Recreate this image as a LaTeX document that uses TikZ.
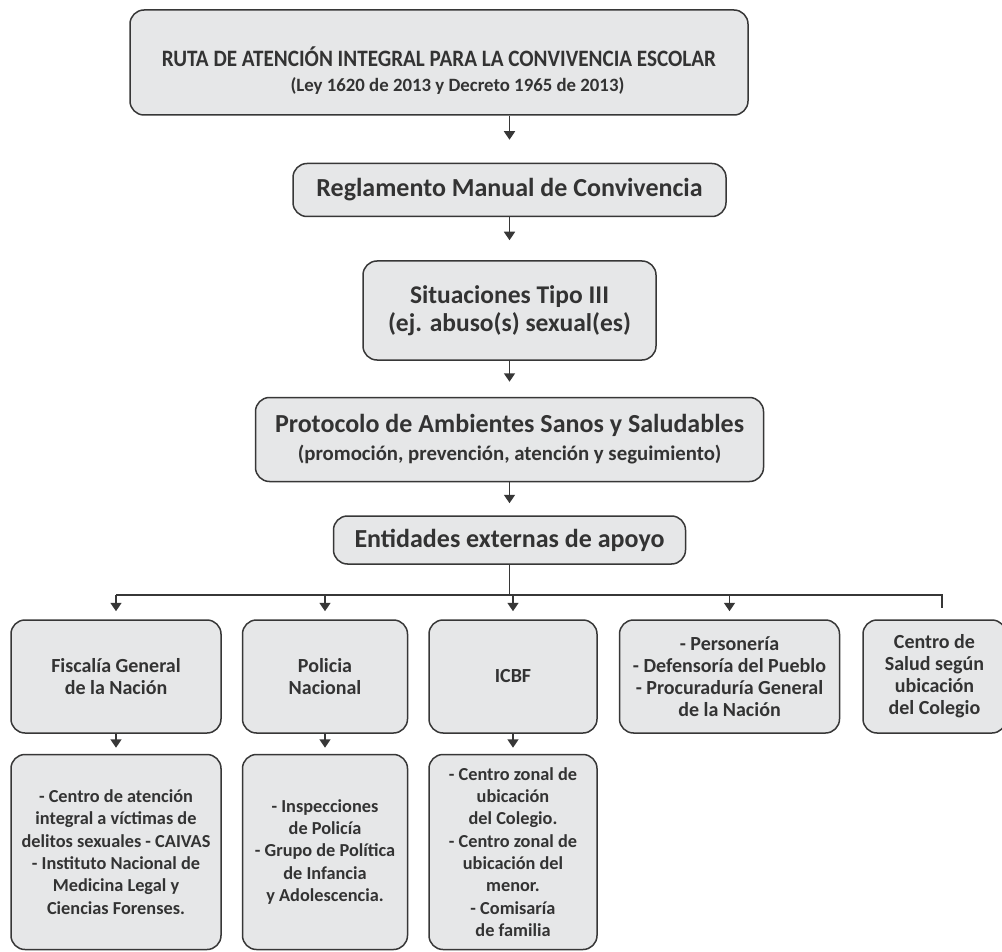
\documentclass[tikz,border=0pt]{standalone}
\usepackage{fontspec}
\setmainfont{Carlito}
\newfontfamily\titlefont{Carlito}[FakeStretch=0.9]
\usetikzlibrary{positioning, arrows.meta}
\definecolor{boxfill}{RGB}{230,231,232}
\definecolor{boxline}{RGB}{55,55,55}
\definecolor{ink}{RGB}{51,51,51}
\tikzset{
box/.style={draw=boxline, fill=boxfill, line width=1.5pt, rounded corners=14pt, align=center, text=ink, inner sep=0pt}, % every rounded grey box
mainfont/.style={font=\fontsize{26}{30}\selectfont\bfseries}, % central column
headfont/.style={font=\fontsize{20}{22}\selectfont\bfseries}, % first row
listfont/.style={font=\fontsize{18.3}{22.3}\selectfont\bfseries}, % second row
link/.style={draw=boxline, line width=1.6pt}, % plain connector
arr/.style={link, -{Triangle[width=11pt,length=8.5pt]}}, % connector with a filled head
}
\begin{document}
\begin{tikzpicture}[x=1pt, y=-1pt]
            \useasboundingbox (0,0) rectangle (1002,952);
            % central column
            \node[box, font=\titlefont\fontsize{23.5}{25}\selectfont\bfseries, minimum width=618pt, minimum height=105pt] (ruta) at (439,62.5)
                {\rule{0pt}{36pt}RUTA DE ATENCIÓN INTEGRAL PARA LA CONVIVENCIA ESCOLAR\\
                 {\normalfont\fontsize{18.8}{23}\selectfont\bfseries\hspace*{37pt}(Ley 1620 de 2013 y Decreto 1965 de 2013)}};
            \node[box, mainfont, minimum width=433pt, minimum height=53pt, below=47pt of ruta, xshift=70.5pt] (manual) {Reglamento Manual de Convivencia};
            \node[box, font=\fontsize{25.5}{28}\selectfont\bfseries, minimum width=293pt, minimum height=99pt, below=43pt of manual] (tipo) {Situaciones Tipo III\\(ej. abuso(s) sexual(es)};
            \node[box, font=\fontsize{26}{28}\selectfont\bfseries, minimum width=508pt, minimum height=84pt, below=36pt of tipo] (protocolo)
                {Protocolo de Ambientes Sanos y Saludables\\{\fontsize{20.8}{23}\selectfont\bfseries(promoción, prevención, atención y seguimiento)}};
            \node[box, mainfont, minimum width=352pt, minimum height=48pt, below=33pt of protocolo] (entidades) {Entidades externas de apoyo};

            % first row
            \node[box, headfont, minimum width=210pt, minimum height=113pt] (fiscalia) at (116,676.5) {Fiscalía General\\de la Nación};
            \node[box, headfont, minimum width=165pt, minimum height=113pt, right=20pt of fiscalia] (policia) {Policia\\Nacional};
            \node[box, headfont, minimum width=168pt, minimum height=113pt, right=20pt of policia] (icbf) {ICBF};
            \node[box, headfont, minimum width=220pt, minimum height=113pt, right=21pt of icbf] (personeria)
                {- Personería\\- Defensoría del Pueblo\\- Procuraduría General\\de la Nación};
            \node[box, headfont, minimum width=143pt, minimum height=113pt, right=22pt of personeria] (salud)
                {Centro de\\Salud según\\ubicación\\del Colegio};

            % second row
            \node[box, listfont, minimum width=210pt, minimum height=195pt, below=20pt of fiscalia] (fiscalia-sub)
                {- Centro de atención\\integral a víctimas de\\delitos sexuales - CAIVAS\\- Instituto Nacional de\\Medicina Legal y\\Ciencias Forenses.};
            \node[box, listfont, minimum width=165pt, minimum height=195pt, below=20pt of policia] (policia-sub)
                {- Inspecciones\\de Policía\\- Grupo de Política\\de Infancia\\y Adolescencia.};
            \node[box, listfont, minimum width=168pt, minimum height=195pt, below=20pt of icbf] (icbf-sub)
                {- Centro zonal de\\ubicación\\del Colegio.\\- Centro zonal de\\ubicación del\\menor.\\- Comisaría\\de familia};

            \coordinate[below=30pt of entidades.south] (split);

            \draw[arr, shorten >=23pt] (ruta.south -| manual.north) -- (manual.north);
            \draw[arr, shorten >=20pt] (manual) -- (tipo);
            \draw[arr, shorten >=15pt] (tipo) -- (protocolo);
            \draw[arr, shorten >=12pt] (protocolo) -- (entidades);
            \draw[link] (entidades) -- (split);
            \draw[link] (split -| fiscalia.north) -- ([xshift=7.5pt]split -| salud.north) -- ([xshift=7.5pt, yshift=11pt]salud.north);
            \foreach \n in {fiscalia, policia, icbf, personeria}
                \draw[arr, shorten >=8pt] (split -| \n.north) -- (\n.north);
            \foreach \n in {fiscalia, policia, icbf}
                \draw[arr, shorten >=6pt] (\n) -- (\n-sub);
        \end{tikzpicture}
\end{document}
